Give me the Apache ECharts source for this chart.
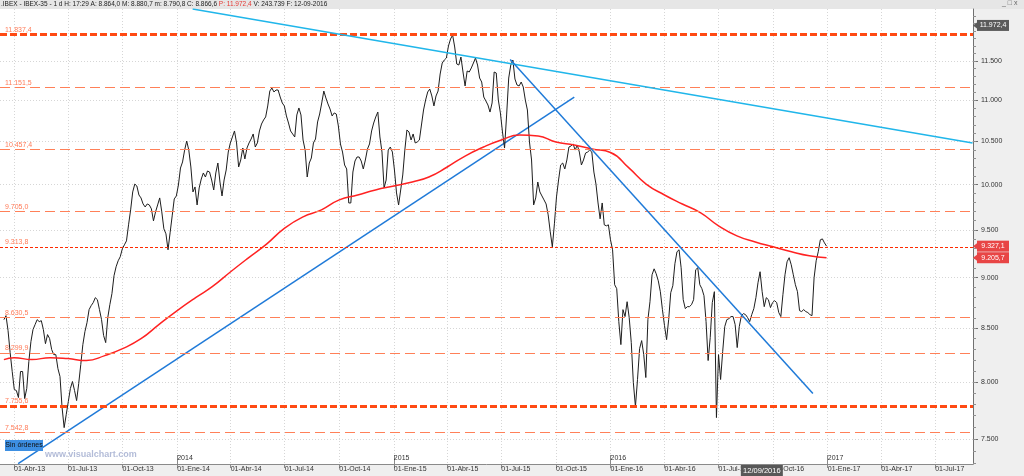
<!DOCTYPE html>
<html>
<head>
<meta charset="utf-8"/>
<title>IBEX-35</title>
<script src="https://cdn.jsdelivr.net/npm/echarts@6/dist/echarts.min.js"></script>
<style>
html,body{margin:0;padding:0;background:#efefef;}
#chart{width:1024px;height:476px;}
</style>
</head>
<body>
<div id="chart"></div>
<script>
// cierres cada media semana desde 15-03-2013
var priceStart = [2013, 2, 15];
var priceStepDays = 3.5;
var priceValues = [
  8583, 8622, 8477, 8269, 8094, 7931, 7922, 7859, 8094, 8094,
  7850, 7940, 8186, 8372, 8487, 8535, 8583, 8564, 8573, 8487,
  8353, 8439, 8401, 8297, 8250, 8250, 8121, 8048, 7771, 7596,
  7709, 7823, 7940, 8003, 7922, 7832, 7984, 8158, 8344, 8468,
  8554, 8681, 8720, 8750, 8799, 8779, 8681, 8583, 8430, 8363,
  8603, 8730, 8839, 9020, 9112, 9174, 9216, 9299, 9341, 9383,
  9555, 9718, 9917, 10006, 9984, 9883, 9850, 9783, 9750, 9783,
  9772, 9729, 9598, 9696, 9772, 9850, 9696, 9512, 9458, 9289,
  9469, 9652, 9839, 9872, 9995, 10189, 10259, 10398, 10505, 10398,
  10201, 9917, 9973, 9772, 9962, 10063, 10132, 10086, 10155, 10143,
  10052, 9939, 10132, 10247, 10029, 9872, 10052, 10166, 10375, 10482,
  10553, 10625, 10482, 10201, 10282, 10422, 10294, 10422, 10482, 10529,
  10589, 10434, 10482, 10625, 10709, 10758, 10795, 10930, 11116, 11154,
  11104, 11129, 11129, 11041, 10967, 10930, 10807, 10721, 10625, 10589,
  10553, 10819, 10905, 10819, 10517, 10398, 10086, 10247, 10305, 10482,
  10529, 10734, 10831, 10967, 11116, 11029, 10955, 10892, 10807, 10844,
  10831, 10685, 10470, 10375, 10224, 10178, 9794, 9794, 10143, 10270,
  10317, 10317, 10270, 10178, 10282, 10410, 10470, 10625, 10721, 10795,
  10855, 10553, 10375, 9962, 10052, 10398, 10434, 10375, 10166, 9906,
  9772, 9939, 10109, 10398, 10637, 10613, 10517, 10589, 10482, 10494,
  10517, 10697, 10880, 11004, 11104, 11141, 11054, 10930, 11054, 11116,
  11332, 11474, 11513, 11539, 11697, 11790, 11843, 11684, 11461, 11448,
  11552, 11358, 11180, 11371, 11358, 11410, 11474, 11539, 11448, 11281,
  11230, 11041, 10992, 10942, 10855, 10967, 11358, 11345, 11004, 10844,
  10613, 10422, 10819, 11281, 11448, 11513, 11268, 11192, 11180, 11230,
  11167, 11004, 10880, 10494, 10282, 9772, 9850, 10029, 9917, 9872,
  9828, 9783, 9663, 9479, 9320, 9566, 9861, 10052, 10224, 10247,
  10178, 10282, 10434, 10446, 10470, 10398, 10458, 10375, 10224, 10282,
  10363, 10375, 10398, 10375, 10143, 10006, 9794, 9620, 9794, 9555,
  9544, 9555, 9394, 9289, 8929, 8889, 8564, 8344, 8681, 8613,
  8759, 8603, 8363, 7993, 7779, 8021, 8306, 8382, 8250, 8039,
  8583, 8759, 9030, 9091, 9040, 8969, 8859, 8681, 8525, 8391,
  8583, 8849, 8919, 9143, 9268, 9289, 9102, 8779, 8691, 8710,
  8710, 8730, 8779, 9081, 9102, 8929, 8889, 8819, 8564, 8195,
  8410, 8750, 8859, 7683, 8250, 8021, 8278, 8516, 8583, 8593,
  8613, 8613, 8535, 8316, 8516, 8622, 8642, 8632, 8603, 8564,
  8632, 8691, 8799, 8949, 9061, 8859, 8710, 8799, 8779, 8701,
  8750, 8769, 8750, 8652, 8613, 8829, 9030, 9164, 9206, 9133,
  9030, 8929, 8859, 8671, 8662, 8681, 8662, 8652, 8632, 8622,
  8999, 9174, 9268, 9394, 9404, 9362, 9327.1
];

// media movil 200 sesiones
var smaDates = ['2013-03-15','2013-04-01','2013-05-01','2013-06-01','2013-07-01','2013-08-01','2013-09-01','2013-10-01','2013-11-01','2013-12-01',
  '2014-01-01','2014-02-01','2014-03-01','2014-04-01','2014-05-01','2014-06-01','2014-07-01','2014-08-01','2014-09-01','2014-10-01','2014-11-01','2014-12-01',
  '2015-01-01','2015-02-01','2015-03-01','2015-04-01','2015-05-01','2015-06-01','2015-07-01','2015-08-01','2015-09-01','2015-10-01','2015-11-01','2015-12-01',
  '2016-01-01','2016-02-01','2016-03-01','2016-04-01','2016-05-01','2016-06-01','2016-07-01','2016-08-01','2016-09-01','2016-10-01','2016-11-01','2016-12-01','2016-12-30'];
var smaValues = [8204, 8222, 8204, 8222, 8213, 8195, 8241, 8306, 8400, 8535,
  8671, 8799, 8909, 9061, 9205, 9352, 9520, 9642, 9718, 9828, 9883, 9939,
  9984, 10030, 10086, 10201, 10328, 10434, 10517, 10577, 10565, 10493, 10458, 10410,
  10370, 10190, 10006, 9883, 9783, 9685, 9544, 9436, 9372, 9320, 9268, 9226, 9205.7];

// niveles horizontales
var levelValues = [11837.4, 11151.5, 10457.4, 9705.0, 9313.8, 8630.5, 8299.9, 7755.6, 7542.8];
var levelKinds  = ['fuerte', 'normal', 'normal', 'normal', 'punteado', 'normal', 'normal', 'fuerte', 'normal'];

// lineas de tendencia
var trendCyan = [['2014-01-27', 12197], ['2017-09-02', 10481]];
var trendUp   = [['2013-04-08', 7294], ['2015-11-01', 11041]];
var trendDown = [['2015-07-16', 11520], ['2016-12-07', 7895]];

var yTickLabels = [7500, 8000, 8500, 9000, 9500, 10000, 10500, 11000, 11500];
var quarterTicks = ['2013-04-01','2013-07-01','2013-10-01','2014-01-01','2014-04-01','2014-07-01','2014-10-01',
  '2015-01-01','2015-04-01','2015-07-01','2015-10-01','2016-01-01','2016-04-01','2016-07-01','2016-10-01',
  '2017-01-01','2017-04-01','2017-07-01'];
var yearTicks = ['2014-01-01','2015-01-01','2016-01-01','2017-01-01'];
var meses = ['Ene','Feb','Mar','Abr','May','Jun','Jul','Ago','Sep','Oct','Nov','Dic'];

var L = Math.log;
var FONT = 'Liberation Sans, Arial, sans-serif';
var xMin = +new Date(2013, 2, 8, 10);
var xMax = +new Date(2017, 8, 2, 18);
var yMin = L(7290), yMax = L(12197);

function miles(n) { return String(n).replace(/\B(?=(\d{3})+(?!\d))/g, '.'); }
function nivel(v) { var p = v.toFixed(1).split('.'); return miles(p[0]) + ',' + p[1]; }
function ts(s) { var p = s.split('-'); return +new Date(+p[0], +p[1] - 1, +p[2]); }

var t0 = +new Date(priceStart[0], priceStart[1], priceStart[2]);
var priceData = priceValues.map(function (v, i) { return [t0 + i * priceStepDays * 864e5, L(v)]; });
var smaData = smaDates.map(function (d, i) { return [ts(d), L(smaValues[i])]; });
function trend(a) { return a.map(function (p) { return [ts(p[0]), L(p[1])]; }); }

var minorTicks = [];
for (var m = 7300; m <= 12100; m += 100) minorTicks.push(L(m));

var levelStyle = {
  fuerte:   { color: '#ff4a14', width: 3, type: [7, 3] },
  normal:   { color: '#ff8058', width: 1, type: [10, 5] },
  punteado: { color: '#ff2a00', width: 1, type: [3, 2] }
};

function levelLines(snap) {
  return levelValues.map(function (v, i) {
    var y = L(v);
    if (snap) {
      // alinear la linea fina al pixel para que se vea nitida
      var py = chart.convertToPixel({ yAxisIndex: 0 }, y);
      y = chart.convertFromPixel({ yAxisIndex: 0 }, Math.floor(py) + 0.5);
    }
    return {
      yAxis: y, lineStyle: levelStyle[levelKinds[i]],
      label: { show: true, position: 'insideStartTop', formatter: nivel(v), fontSize: 7, color: '#ff7b58', distance: [5, 1] }
    };
  });
}

var chart = echarts.init(document.getElementById('chart'));
chart.setOption({
  animation: false,
  backgroundColor: '#efefef',
  textStyle: { fontFamily: FONT },
  grid: { left: 0, right: 51, top: 9, bottom: 12, show: true, backgroundColor: '#ffffff', borderWidth: 0, outerBoundsMode: 'none' },
  xAxis: [{
    type: 'value', min: xMin, max: xMax,
    axisLine: { lineStyle: { color: '#8a8a8a' } },
    axisTick: { customValues: quarterTicks.map(ts), length: 4, lineStyle: { color: '#8a8a8a' } },
    axisLabel: {
      customValues: quarterTicks.map(ts), align: 'left', fontSize: 7, color: '#333', margin: 2, hideOverlap: false,
      formatter: function (v) { var d = new Date(v); return '01-' + meses[d.getMonth()] + '-' + String(d.getFullYear()).slice(2); }
    },
    splitLine: { show: true, lineStyle: { color: '#d6d6d6', type: [1, 2] } }
  }, {
    type: 'value', min: xMin, max: xMax, position: 'bottom',
    axisLine: { show: false },
    axisTick: { customValues: yearTicks.map(ts), inside: true, length: 9, lineStyle: { color: '#8a8a8a' } },
    axisLabel: {
      customValues: yearTicks.map(ts), inside: true, align: 'left', fontSize: 7, color: '#333', margin: 2,
      formatter: function (v) { return String(new Date(v).getFullYear()); }
    },
    splitLine: { show: false }
  }],
  yAxis: [{
    type: 'value', position: 'right', min: yMin, max: yMax,
    axisLine: { show: true, lineStyle: { color: '#707070' } },
    axisTick: { show: true, customValues: yTickLabels.map(L), length: 5, lineStyle: { color: '#707070' } },
    axisLabel: {
      customValues: yTickLabels.map(L), fontSize: 7, color: '#333', margin: 8,
      formatter: function (v) { return miles(Math.round(Math.exp(v))); }
    },
    splitLine: { show: true, lineStyle: { color: '#d6d6d6', type: [1, 2] } }
  }, {
    type: 'value', position: 'right', min: yMin, max: yMax,
    axisLine: { show: false },
    axisTick: { show: true, customValues: minorTicks, length: 3, lineStyle: { color: '#909090' } },
    axisLabel: { show: false },
    splitLine: { show: false }
  }],
  series: [{
    name: 'Soporte', type: 'line', z: 2, data: trend(trendUp), showSymbol: false, silent: true,
    lineStyle: { color: '#1f7ad8', width: 1.5 },
    markLine: { silent: true, symbol: 'none', animation: false, data: levelLines(false) }
  }, {
    name: 'IBEX-35', type: 'line', z: 3, data: priceData, showSymbol: false, silent: true,
    lineStyle: { color: '#1e1e1e', width: 1 }
  }, {
    name: 'Media 200', type: 'line', z: 4, data: smaData, smooth: true, showSymbol: false, silent: true,
    lineStyle: { color: '#ff2222', width: 1.5 }
  }, {
    name: 'Directriz', type: 'line', z: 5, data: trend(trendCyan), showSymbol: false, silent: true,
    lineStyle: { color: '#20b6ea', width: 1.5 }
  }, {
    name: 'Resistencia', type: 'line', z: 5, data: trend(trendDown), showSymbol: false, silent: true,
    lineStyle: { color: '#1f7ad8', width: 1.5 }
  }]
});
chart.setOption({ series: [{ markLine: { data: levelLines(true) } }] });

// etiquetas en el eje y adornos de la ventana
var tagDefs = [
  { v: 11972.4, bg: '#5a5a5a' },
  { v: 9327.1, bg: '#e84545' },
  { v: 9205.7, bg: '#e84545' }
];
var g = [
  { type: 'rect', z: -1, shape: { x: 0, y: 0, width: 1024, height: 9 }, style: { fill: '#e6e6e6' } },
  {
    type: 'text', left: 1, top: 1, z: 10,
    style: {
      text: '{a|.IBEX - IBEX-35 - 1 d H: 17:29 A: 8.864,0 M: 8.880,7 m: 8.790,8 C: 8.866,6 }{p|P: 11.972,4}{a| V: 243.739 F: 12-09-2016}',
      rich: { a: { fontSize: 6.5, fill: '#222', fontFamily: FONT }, p: { fontSize: 6.5, fill: '#e53935', fontFamily: FONT } }
    }
  },
  { type: 'text', left: 1002, top: 0, z: 10, style: { text: '_ \u25a1 x', fontSize: 7, fill: '#666', fontFamily: FONT } }
];
tagDefs.forEach(function (t) {
  var y = chart.convertToPixel({ yAxisIndex: 0 }, L(t.v));
  g.push({ type: 'rect', z: 20, shape: { x: 977, y: y - 5.5, width: 32, height: 11 }, style: { fill: t.bg } });
  g.push({ type: 'polygon', z: 20, shape: { points: [[973, y], [977, y - 3], [977, y + 3]] }, style: { fill: t.bg } });
  g.push({ type: 'text', z: 21, x: 993, y: y, style: { text: nivel(t.v), fontSize: 7, fill: '#fff', align: 'center', verticalAlign: 'middle', fontFamily: FONT } });
});
var cx = chart.convertToPixel({ xAxisIndex: 0 }, ts('2016-09-12'));
g.push({ type: 'rect', z: 20, shape: { x: cx - 21, y: 465, width: 42, height: 11 }, style: { fill: '#585858' } });
g.push({ type: 'text', z: 21, x: cx, y: 470.5, style: { text: '12/09/2016', fontSize: 7.5, fill: '#fff', align: 'center', verticalAlign: 'middle', fontFamily: FONT } });
g.push({ type: 'rect', z: 20, shape: { x: 5, y: 440, width: 38, height: 11 }, style: { fill: '#3d8fe2' } });
g.push({ type: 'text', z: 21, x: 24, y: 445.5, style: { text: 'Sin órdenes', fontSize: 7, fill: '#111', align: 'center', verticalAlign: 'middle', fontFamily: FONT } });
g.push({ type: 'text', z: 21, x: 45, y: 455, style: { text: 'www.visualchart.com', fontSize: 9, fontWeight: 'bold', fill: '#b3bcd8', verticalAlign: 'middle', fontFamily: FONT } });
chart.setOption({ graphic: g });
</script>
</body>
</html>
